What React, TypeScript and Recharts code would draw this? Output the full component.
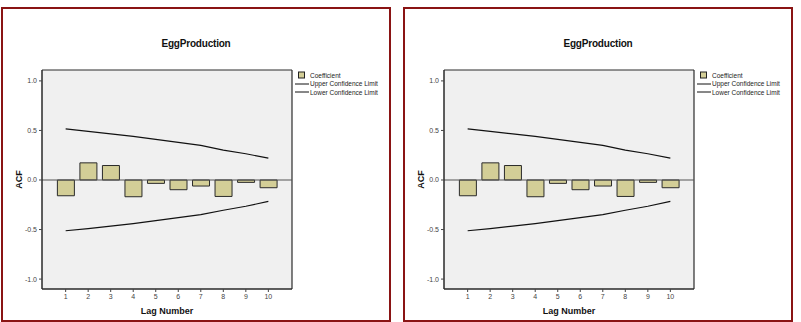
import React from 'react';
import { ComposedChart, Bar, Line, XAxis, YAxis, CartesianGrid, ReferenceLine, Legend } from 'recharts';

// ACF of EggProduction, lags 1..10
const lags = [1, 2, 3, 4, 5, 6, 7, 8, 9, 10];
const acfValues = [-0.159, 0.173, 0.146, -0.169, -0.034, -0.098, -0.061, -0.166, -0.024, -0.078];
const upperLimit = [0.515, 0.49, 0.465, 0.44, 0.41, 0.38, 0.35, 0.302, 0.265, 0.22];
const lowerLimit = [-0.512, -0.49, -0.465, -0.44, -0.41, -0.38, -0.35, -0.305, -0.265, -0.216];
const yTicks = [-1, -0.5, 0, 0.5, 1];

const chartData = lags.map((lag, i) => ({
    lag,
    acf: acfValues[i],
    upper: upperLimit[i],
    lower: lowerLimit[i],
}));

const FONT = '"Liberation Sans", Arial, sans-serif';
const BAR_FILL = '#d3ce97';
const FRAME = '#2a2a2a';

const LegendBox = () => {
    const rows = [
        { label: 'Coefficient', kind: 'box' },
        { label: 'Upper Confidence Limit', kind: 'line' },
        { label: 'Lower Confidence Limit', kind: 'line' },
    ];
    return (
        <div style={{ fontFamily: FONT, fontSize: 6.5, color: '#222' }}>
            {rows.map((r) => (
                <div key={r.label} style={{ display: 'flex', alignItems: 'center', height: 8.6, whiteSpace: 'nowrap' }}>
                    <svg width={18} height={8} style={{ flex: 'none' }}>
                        {r.kind === 'box' ? (
                            <rect x={6.5} y={1} width={6} height={6} fill={BAR_FILL} stroke="#222" strokeWidth={1} />
                        ) : (
                            <line x1={3} y1={4} x2={17} y2={4} stroke="#111" strokeWidth={1} />
                        )}
                    </svg>
                    <span>{r.label}</span>
                </div>
            ))}
        </div>
    );
};

const Panel = ({ left }: { left: number }) => {
    return (
        <div
            style={{
                position: 'absolute',
                left,
                top: 7,
                width: 390,
                height: 315,
                boxSizing: 'border-box',
                border: '2px solid #8a1414',
                background: '#fff',
            }}
        >
            <div
                style={{
                    position: 'absolute',
                    top: 29,
                    left: 0,
                    width: '100%',
                    textAlign: 'center',
                    fontFamily: FONT,
                    fontWeight: 'bold',
                    fontSize: 10,
                    lineHeight: '12px',
                    color: '#111',
                    letterSpacing: -0.2,
                }}
            >
                EggProduction
            </div>
            <div style={{ position: 'absolute', left: 0, top: 0 }}>
                <ComposedChart
                    width={386}
                    height={311}
                    data={chartData}
                    margin={{ top: 61, right: 97, bottom: 0, left: 0 }}
                >
                    <CartesianGrid fill="#f0f0f0" horizontal={false} vertical={false} />
                    <XAxis
                        type="number"
                        dataKey="lag"
                        domain={[-0.05, 11.05]}
                        ticks={lags}
                        allowDataOverflow
                        height={31}
                        tickSize={3}
                        tickMargin={2}
                        axisLine={{ stroke: FRAME, strokeWidth: 1.5 }}
                        tickLine={{ stroke: '#444' }}
                        tick={{ fontSize: 7, fill: '#444', fontFamily: FONT }}
                        label={{
                            value: 'Lag Number',
                            position: 'insideBottom',
                            offset: 6,
                            style: { fontSize: 9, fontWeight: 'bold', fill: '#111', fontFamily: FONT },
                        }}
                    />
                    <YAxis
                        type="number"
                        domain={[-1.1, 1.11]}
                        ticks={yTicks}
                        allowDataOverflow
                        width={39}
                        tickSize={3}
                        tickMargin={2}
                        tickFormatter={(v: number) => v.toFixed(1)}
                        axisLine={{ stroke: FRAME, strokeWidth: 1.5 }}
                        tickLine={{ stroke: '#444' }}
                        tick={{ fontSize: 7, fill: '#444', fontFamily: FONT }}
                        label={{
                            value: 'ACF',
                            angle: -90,
                            position: 'insideLeft',
                            offset: 16,
                            style: { textAnchor: 'middle', fontSize: 9, fontWeight: 'bold', fill: '#111', fontFamily: FONT },
                        }}
                    />
                    <ReferenceLine y={1.11} stroke={FRAME} strokeWidth={1} />
                    <ReferenceLine x={11.05} stroke={FRAME} strokeWidth={1.2} />
                    <Bar dataKey="acf" name="Coefficient" fill={BAR_FILL} stroke="#2a2a2a" strokeWidth={1} barSize={17} isAnimationActive={false} />
                    <ReferenceLine y={0} stroke="#555" strokeWidth={1.2} />
                    <Line type="linear" dataKey="upper" name="Upper Confidence Limit" stroke="#111" strokeWidth={1.2} dot={false} activeDot={false} isAnimationActive={false} />
                    <Line type="linear" dataKey="lower" name="Lower Confidence Limit" stroke="#111" strokeWidth={1.2} dot={false} activeDot={false} isAnimationActive={false} />
                    <Legend
                        layout="vertical"
                        align="center"
                        verticalAlign="middle"
                        content={<LegendBox />}
                        wrapperStyle={{ left: 289, top: 62, width: 95 }}
                    />
                </ComposedChart>
            </div>
        </div>
    );
};

export default function App() {
    return (
        <div style={{ position: 'absolute', left: 0, top: 0, width: 801, height: 322, background: '#fff', overflow: 'hidden' }}>
            <Panel left={1} />
            <Panel left={403} />
        </div>
    );
}
